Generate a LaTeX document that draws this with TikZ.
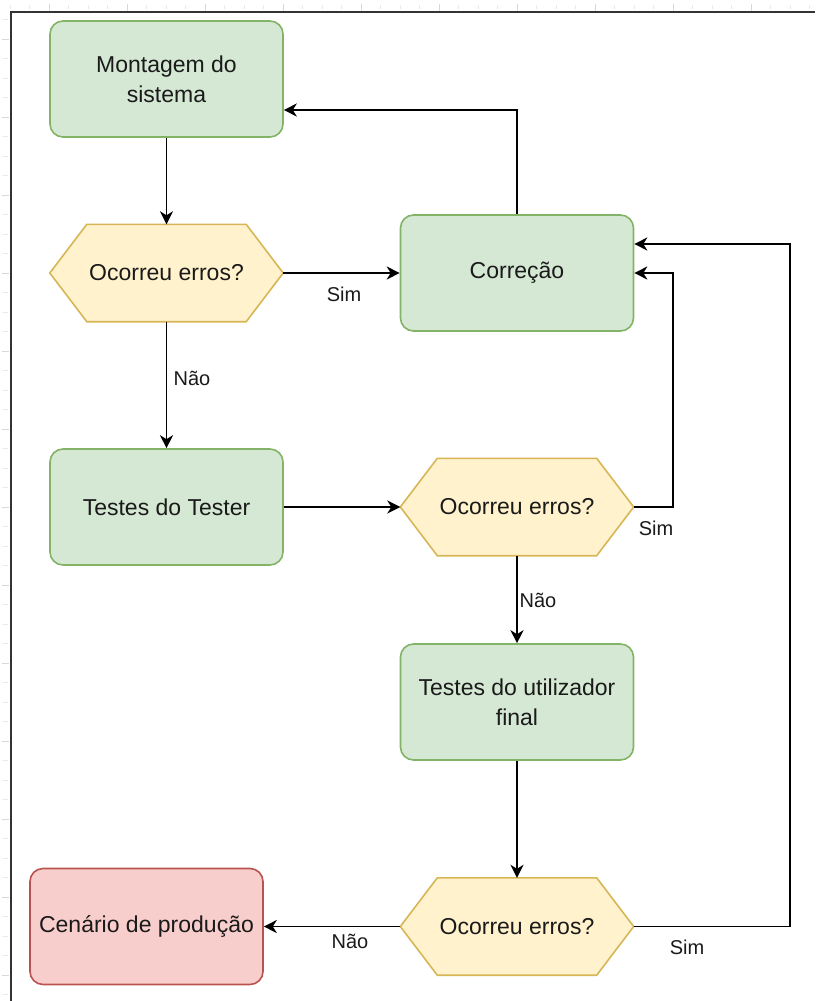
\documentclass[tikz,border=0pt]{standalone}
\usepackage{fontspec}
\setmainfont{Liberation Sans}
\usetikzlibrary{arrows.meta,backgrounds}
\definecolor{procfill}{HTML}{D5E8D4}
\definecolor{procline}{HTML}{82B366}
\definecolor{decfill}{HTML}{FFF2CC}
\definecolor{decline}{HTML}{D6B656}
\definecolor{endfill}{HTML}{F8CECC}
\definecolor{endline}{HTML}{B85450}
\definecolor{inkcol}{HTML}{1A1A1A}
\definecolor{framecol}{HTML}{333333}
\definecolor{tickmajor}{HTML}{D8D8D8}
\definecolor{tickminor}{HTML}{EAEAEA}
\begin{document}
\begin{tikzpicture}[x=1pt,y=-1pt,
  box/.style={rounded corners=13pt, minimum width=233pt, minimum height=116pt,
    line width=1.6pt, align=center, text=inkcol, inner sep=0pt,
    font=\fontsize{23}{30}\selectfont},
  procbox/.style={box, draw=procline, fill=procfill},
  endbox/.style={box, draw=endline, fill=endfill},
  decbox/.style={minimum width=233pt, minimum height=97pt, inner sep=0pt,
    text=inkcol, font=\fontsize{23}{30}\selectfont},
  hexshape/.style={draw=decline, fill=decfill, line width=1.6pt, line join=miter},
  flow/.style={draw=black, line width=1.9pt, -{Stealth[length=13pt,width=13pt,inset=4pt]}},
  lbl/.style={text=inkcol, inner sep=0pt, font=\fontsize{20}{24}\selectfont},
  frameline/.style={draw=framecol, line width=1.8pt},
  rulertick/.style={line width=0.9pt}]
\useasboundingbox (0,0) rectangle (815,1001);

% faint ruler marks along the top and left edges
\foreach \i in {0,...,41} {
  \pgfmathtruncatemacro\m{mod(\i,4)}
  \ifnum\m=2
    \draw[rulertick, draw=tickmajor] (10+19.5*\i,4) -- (10+19.5*\i,11);
  \else
    \draw[rulertick, draw=tickminor] (10+19.5*\i,5) -- (10+19.5*\i,9);
  \fi
}
\foreach \i in {1,...,51} {
  \pgfmathtruncatemacro\m{mod(\i,4)}
  \ifnum\m=2
    \draw[rulertick, draw=tickmajor] (2,19.5*\i) -- (9,19.5*\i);
  \else
    \draw[rulertick, draw=tickminor] (3,19.5*\i) -- (8,19.5*\i);
  \fi
}

% page frame
\draw[frameline] (815,12) -- (11,12) -- (11,1001);

% process steps
\node[procbox] (mont) at (166.5,79) {Montagem do\\sistema};
\node[procbox] (corr) at (517,273) {Correção};
\node[procbox] (tt)   at (166.5,507) {Testes do Tester};
\node[procbox] (util) at (517,702) {Testes do utilizador\\final};
\node[endbox]  (prod) at (146.5,926.5) {Cenário de produção};

% decisions
\node[decbox] (d1) at (166.5,273) {Ocorreu erros?};
\node[decbox] (d2) at (517,507) {Ocorreu erros?};
\node[decbox] (d3) at (517,926.5) {Ocorreu erros?};

\begin{scope}[on background layer]
  \foreach \n in {d1,d2,d3}
    \filldraw[hexshape] (\n.west) -- ([xshift=37pt]\n.north west)
      -- ([xshift=-37pt]\n.north east) -- (\n.east)
      -- ([xshift=-37pt]\n.south east) -- ([xshift=37pt]\n.south west) -- cycle;
\end{scope}

% connectors
\draw[flow] (mont.south) -- (d1.north);
\draw[flow] (d1.east) -- (corr.west);
\draw[flow] (d1.south) -- (tt.north);
\draw[flow] (corr.north) |- ([yshift=-31pt]mont.east);
\draw[flow] (tt.east) -- (d2.west);
\draw[flow] (d2.east) -- ++(39,0) |- (corr.east);
\draw[flow] (d2.south) -- (util.north);
\draw[flow] (util.south) -- (d3.north);
\draw[flow] (d3.east) -- ++(156,0) |- ([yshift=29pt]corr.east);
\draw[flow] (d3.west) -- (prod.east);

% branch labels
\node[lbl] (s1) at (344,294) {Sim};
\node[lbl] (n1) at (192,378) {Não};
\node[lbl] (s2) at (656,528) {Sim};
\node[lbl] (n2) at (538,600) {Não};
\node[lbl] (s3) at (687,947) {Sim};
\node[lbl] (n3) at (350,941) {Não};
\end{tikzpicture}
\end{document}
